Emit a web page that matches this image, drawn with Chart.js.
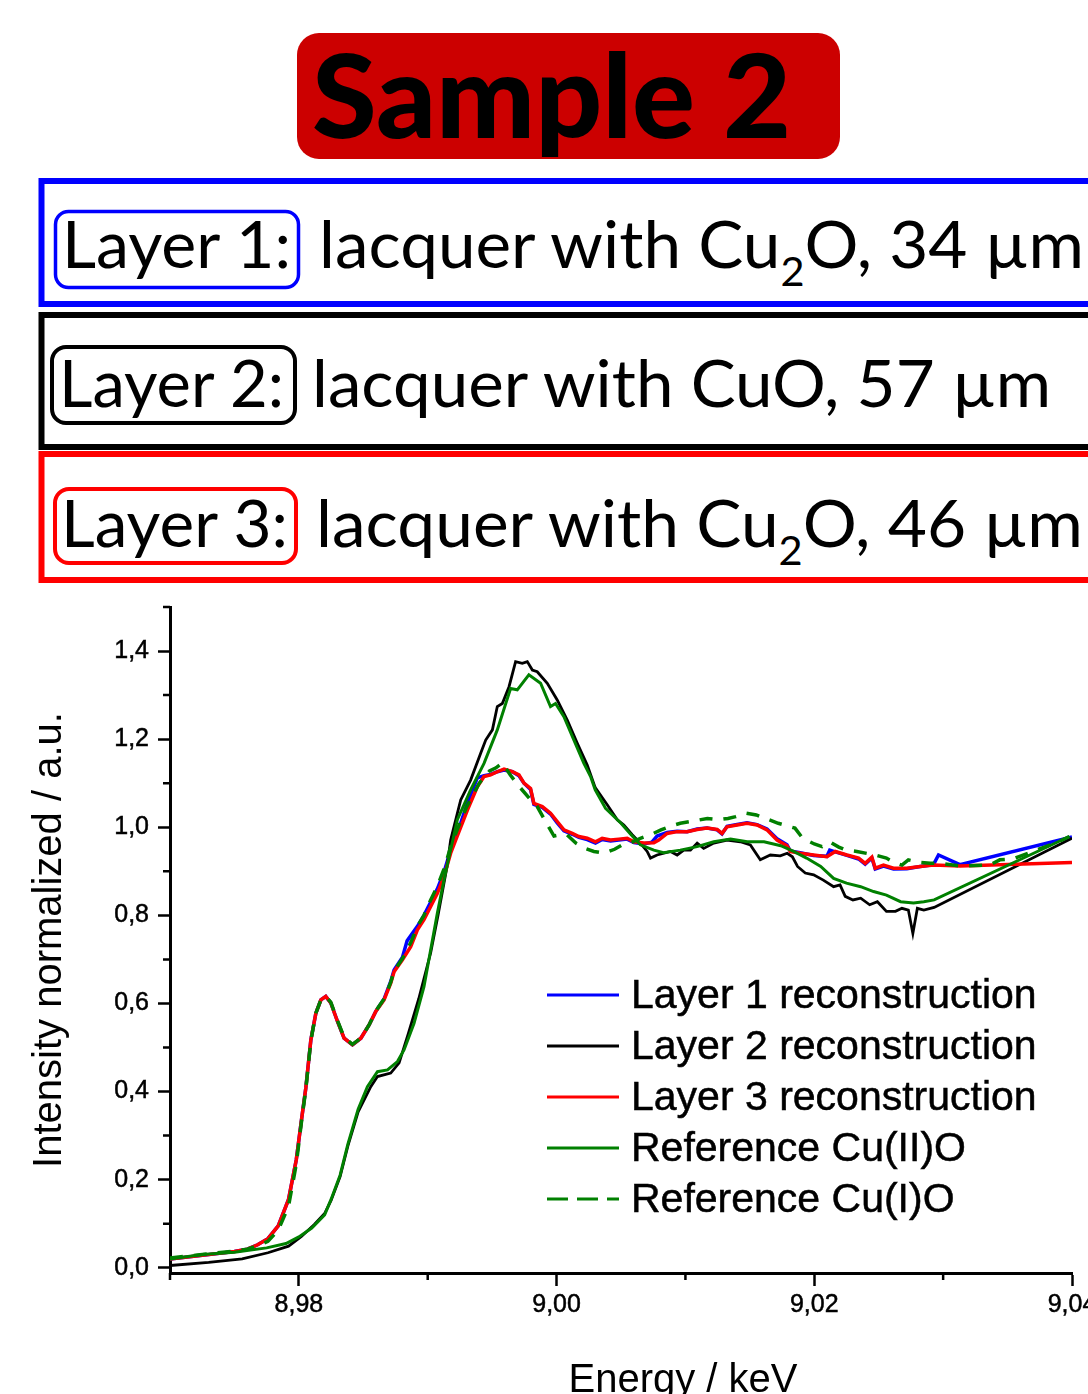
<!DOCTYPE html>
<html><head><meta charset="utf-8">
<script src="https://cdn.jsdelivr.net/npm/chart.js@4.4.1/dist/chart.umd.min.js"></script>
<style>
html,body{margin:0;padding:0;background:#fff;width:1088px;height:1394px;overflow:hidden;}
#hdr{position:absolute;left:0;top:0;}
#plot{position:absolute;left:0;top:590px;width:1088px;height:804px;overflow:hidden;}
#plot canvas{position:absolute;left:0;top:0;}
</style></head><body>
<svg id="hdr" width="1088" height="590" xmlns="http://www.w3.org/2000/svg">
  <rect x="297" y="33" width="543" height="126" rx="22" fill="#cc0000"/>
  <text x="312" y="138" font-family="Lato" font-weight="900" font-size="116" textLength="479" lengthAdjust="spacingAndGlyphs" fill="#000">Sample 2</text>

  <rect x="41.5" y="181" width="1100" height="123" fill="none" stroke="#0000ff" stroke-width="6"/>
  <rect x="55.5" y="211.5" width="243" height="76" rx="13" fill="none" stroke="#0000ff" stroke-width="3.5"/>
  <text x="62" y="268" font-family="Lato" font-size="65" textLength="229" lengthAdjust="spacingAndGlyphs" fill="#000">Layer 1:</text>
  <text x="319" y="268" font-family="Lato" font-size="65" textLength="765" lengthAdjust="spacingAndGlyphs" fill="#000">lacquer with Cu<tspan font-size="40" dy="18">2</tspan><tspan dy="-18">O, 34 µm</tspan></text>

  <rect x="41.5" y="315" width="1100" height="132" fill="none" stroke="#000" stroke-width="6"/>
  <rect x="52" y="347" width="243" height="76" rx="14" fill="none" stroke="#000" stroke-width="4"/>
  <text x="59" y="407" font-family="Lato" font-size="65" textLength="225" lengthAdjust="spacingAndGlyphs" fill="#000">Layer 2:</text>
  <text x="312" y="407" font-family="Lato" font-size="65" textLength="739" lengthAdjust="spacingAndGlyphs" fill="#000">lacquer with CuO, 57 µm</text>

  <rect x="41.5" y="454" width="1100" height="126" fill="none" stroke="#ff0000" stroke-width="6"/>
  <rect x="55" y="489" width="241" height="74" rx="14" fill="none" stroke="#ff0000" stroke-width="4"/>
  <text x="61" y="547" font-family="Lato" font-size="65" textLength="227" lengthAdjust="spacingAndGlyphs" fill="#000">Layer 3:</text>
  <text x="316" y="547" font-family="Lato" font-size="65" textLength="767" lengthAdjust="spacingAndGlyphs" fill="#000">lacquer with Cu<tspan font-size="40" dy="18">2</tspan><tspan dy="-18">O, 46 µm</tspan></text>
</svg>
<div id="plot"><canvas id="c" width="1140" height="830"></canvas></div>
<script>
// ---------- data (energy in keV, normalized intensity) ----------
const seriesLabels = ["Layer 1 reconstruction","Layer 2 reconstruction","Layer 3 reconstruction","Reference Cu(II)O","Reference Cu(I)O"];

const layer1E = [8.9700,8.9725,8.9750,8.9760,8.9768,8.9776,8.9784,8.9792,8.9798,8.9802,8.98054,8.98093,8.98132,8.98171,8.98209,8.98248,8.9830,8.98351,8.98416,8.98481,8.98545,8.98597,8.98661,8.98713,8.98739,8.98804,8.98840,8.9892,8.98971,8.99023,8.99075,8.99126,8.99178,8.99217,8.99308,8.99385,8.99437,8.99488,8.9954,8.99592,8.99657,8.99708,8.99747,8.99798,8.99824,8.99889,8.99953,9.00005,9.00057,9.00122,9.00173,9.00238,9.00302,9.00354,9.00419,9.00483,9.00548,9.0060,9.00677,9.00740,9.00780,9.00858,9.00936,9.01013,9.01091,9.01168,9.01246,9.01284,9.01323,9.01401,9.01478,9.01556,9.01633,9.01711,9.01788,9.01814,9.01891,9.01995,9.02098,9.0212,9.02163,9.02253,9.02344,9.02395,9.02447,9.02473,9.02537,9.02615,9.02718,9.02822,9.02925,9.02964,9.0313,9.0400];
const layer1I = [0.020,0.028,0.037,0.042,0.052,0.066,0.095,0.155,0.245,0.335,0.408,0.517,0.578,0.608,0.616,0.601,0.559,0.521,0.506,0.521,0.551,0.582,0.610,0.650,0.676,0.705,0.742,0.775,0.800,0.830,0.860,0.898,0.948,0.975,1.055,1.112,1.117,1.120,1.126,1.130,1.126,1.117,1.100,1.086,1.052,1.045,1.030,1.010,0.992,0.984,0.977,0.972,0.964,0.972,0.969,0.971,0.973,0.965,0.962,0.966,0.980,0.988,0.991,0.990,0.996,0.998,0.994,0.985,1.002,1.006,1.010,1.006,0.996,0.974,0.960,0.946,0.942,0.936,0.934,0.948,0.944,0.936,0.928,0.916,0.930,0.905,0.912,0.905,0.906,0.911,0.915,0.937,0.915,0.978];

const layer2E = [8.9700,8.9730,8.9756,8.9776,8.9792,8.9802,8.9812,8.9820,8.9825,8.9832,8.9838,8.9846,8.98558,8.9861,8.98713,8.98778,8.9885,8.9893,8.99023,8.9908,8.9915,8.99178,8.99256,8.99333,8.99411,8.9945,8.99502,8.9954,8.99579,8.99631,8.99682,8.99734,8.99773,8.99812,8.9985,8.99928,9.00005,9.00083,9.0016,9.00238,9.0030,9.00393,9.00471,9.00522,9.00587,9.0065,9.00703,9.00729,9.0078,9.00832,9.00884,9.00936,9.00987,9.01039,9.01091,9.01142,9.0122,9.01323,9.01426,9.01504,9.01581,9.01659,9.01736,9.0179,9.0183,9.0187,9.0193,9.01995,9.0207,9.0215,9.0220,9.0224,9.0230,9.0236,9.0243,9.0249,9.0256,9.0263,9.0268,9.0273,9.02765,9.0280,9.0285,9.0293,9.0400];
const layer2I = [0.005,0.012,0.020,0.034,0.049,0.071,0.098,0.123,0.153,0.207,0.276,0.354,0.411,0.434,0.442,0.465,0.532,0.610,0.715,0.800,0.911,0.971,1.062,1.107,1.168,1.198,1.221,1.274,1.281,1.319,1.376,1.372,1.376,1.357,1.353,1.327,1.289,1.243,1.191,1.141,1.090,1.051,1.017,1.005,0.983,0.964,0.945,0.930,0.937,0.941,0.945,0.937,0.948,0.948,0.964,0.952,0.964,0.971,0.967,0.960,0.926,0.937,0.935,0.941,0.933,0.911,0.896,0.892,0.880,0.865,0.869,0.843,0.835,0.839,0.824,0.831,0.809,0.809,0.816,0.812,0.759,0.816,0.812,0.818,0.975];

const layer3E = [8.9700,8.9725,8.9750,8.9760,8.9768,8.9776,8.9784,8.9792,8.9798,8.9802,8.98054,8.98093,8.98132,8.98171,8.98209,8.98248,8.9830,8.98351,8.98416,8.98481,8.98545,8.98597,8.98661,8.98713,8.98739,8.98804,8.98868,8.9892,8.98971,8.99023,8.99075,8.99126,8.99178,8.99217,8.99308,8.99385,8.99437,8.99488,8.9954,8.99592,8.99657,8.99708,8.99747,8.99798,8.99824,8.99889,8.99953,9.00005,9.00057,9.00122,9.00173,9.00238,9.00302,9.00354,9.00419,9.00483,9.00548,9.0060,9.00677,9.00755,9.00793,9.00858,9.00936,9.01013,9.01091,9.01168,9.01246,9.01284,9.01323,9.01401,9.01478,9.01556,9.01633,9.01711,9.01788,9.01814,9.01891,9.01995,9.02098,9.02163,9.02253,9.02344,9.02395,9.02447,9.02473,9.02537,9.02615,9.02718,9.02822,9.02925,9.0313,9.0400];
const layer3I = [0.020,0.028,0.037,0.042,0.052,0.066,0.095,0.155,0.245,0.335,0.408,0.517,0.578,0.608,0.616,0.601,0.559,0.521,0.506,0.521,0.551,0.582,0.608,0.646,0.672,0.699,0.729,0.767,0.790,0.820,0.850,0.888,0.941,0.971,1.039,1.092,1.115,1.119,1.126,1.132,1.126,1.119,1.100,1.088,1.054,1.047,1.032,1.013,0.994,0.986,0.979,0.975,0.967,0.975,0.971,0.973,0.975,0.967,0.964,0.965,0.971,0.986,0.990,0.990,0.995,0.998,0.995,0.986,1.001,1.005,1.009,1.005,0.994,0.971,0.958,0.945,0.941,0.937,0.933,0.945,0.937,0.930,0.918,0.932,0.907,0.914,0.907,0.907,0.911,0.914,0.912,0.920];

const cuIIOE = [8.9700,8.9725,8.9750,8.9775,8.9790,8.9800,8.9810,8.9820,8.9825,8.9832,8.9838,8.9846,8.98532,8.9861,8.98688,8.98765,8.98817,8.98894,8.98971,8.99023,8.99075,8.99126,8.99178,8.9923,8.99333,8.99437,8.9954,8.99643,8.99695,8.99785,8.99876,8.99953,8.99992,9.00057,9.00134,9.00212,9.00264,9.0030,9.0038,9.0050,9.0057,9.0065,9.00755,9.0083,9.0096,9.0109,9.0122,9.0135,9.0148,9.0161,9.0174,9.0184,9.0194,9.0205,9.0215,9.0225,9.0236,9.0246,9.0256,9.0267,9.0277,9.0285,9.0293,9.0398];
const cuIIOI = [0.020,0.030,0.035,0.045,0.055,0.070,0.090,0.120,0.155,0.210,0.280,0.360,0.411,0.445,0.449,0.468,0.495,0.555,0.638,0.722,0.805,0.880,0.949,1.017,1.085,1.145,1.221,1.315,1.312,1.346,1.327,1.274,1.281,1.251,1.198,1.145,1.115,1.085,1.043,1.009,0.986,0.960,0.948,0.942,0.948,0.956,0.967,0.973,0.967,0.967,0.958,0.945,0.930,0.911,0.884,0.873,0.865,0.854,0.846,0.831,0.828,0.831,0.835,0.979];

const cuIOE = [8.9700,8.9725,8.9750,8.9760,8.9768,8.9776,8.9784,8.9792,8.9798,8.9802,8.98054,8.98093,8.98132,8.98171,8.98209,8.98248,8.9830,8.98351,8.98416,8.98481,8.98545,8.98597,8.98661,8.98713,8.98739,8.98804,8.98868,8.9892,8.98971,8.99023,8.99075,8.99126,8.99178,8.9923,8.9930,8.9940,8.9948,8.9953,8.9958,8.9964,8.9970,8.9980,8.9985,8.9993,8.9998,9.0003,9.0008,9.0015,9.0022,9.0029,9.0037,9.0045,9.0051,9.0057,9.0065,9.0073,9.0081,9.0089,9.0096,9.0104,9.0117,9.0126,9.0133,9.0139,9.0147,9.0155,9.0162,9.0172,9.0185,9.0191,9.0200,9.0206,9.0212,9.0219,9.0225,9.0233,9.0247,9.0256,9.0262,9.0268,9.0273,9.0282,9.0290,9.0298,9.0313,9.0336,9.0344,9.0354,9.0388,9.0398];
const cuIOI = [0.022,0.030,0.038,0.042,0.050,0.060,0.085,0.140,0.235,0.330,0.405,0.515,0.578,0.608,0.616,0.603,0.561,0.523,0.507,0.521,0.551,0.583,0.610,0.648,0.674,0.702,0.738,0.775,0.800,0.835,0.866,0.905,0.955,0.995,1.045,1.100,1.128,1.135,1.146,1.119,1.096,1.062,1.047,1.005,0.980,0.983,0.983,0.964,0.952,0.945,0.941,0.950,0.960,0.964,0.975,0.983,0.994,1.003,1.009,1.013,1.020,1.017,1.020,1.024,1.032,1.028,1.020,1.009,0.998,0.975,0.962,0.956,0.967,0.955,0.948,0.945,0.937,0.930,0.920,0.914,0.926,0.920,0.918,0.918,0.912,0.914,0.926,0.928,0.965,0.979];

const xMajorTicks = [8.98, 9.00, 9.02, 9.04];
const xMinorTicks = [8.97, 8.99, 9.01, 9.03];
const yMajorTicks = [0.0, 0.2, 0.4, 0.6, 0.8, 1.0, 1.2, 1.4];
const yMinorTicks = [0.1, 0.3, 0.5, 0.7, 0.9, 1.1, 1.3, 1.5];
const xAxisTitle = "Energy / keV";
const yAxisTitle = "Intensity normalized / a.u.";

// ---------- chart ----------
function pts(E, I) { return E.map((e, i) => ({ x: e, y: I[i] })); }
const FONT = '"Liberation Sans", Arial, sans-serif';

const minorTicksPlugin = {
  id: 'minorTicks',
  afterDraw(chart) {
    const ctx = chart.ctx, xs = chart.scales.x, ys = chart.scales.y;
    ctx.save();
    ctx.strokeStyle = '#000'; ctx.lineWidth = 2.5;
    ctx.beginPath();
    xMinorTicks.forEach(v => { const p = xs.getPixelForValue(v); ctx.moveTo(p, xs.top); ctx.lineTo(p, xs.top + 7); });
    yMinorTicks.forEach(v => { const p = ys.getPixelForValue(v); ctx.moveTo(ys.right, p); ctx.lineTo(ys.right - 7, p); });
    ctx.stroke();
    ctx.restore();
  }
};

const insideLegend = {
  id: 'insideLegend',
  afterDraw(chart, args, o) {
    const ctx = chart.ctx, ca = chart.chartArea;
    chart.data.datasets.forEach((ds, i) => {
      const y = ca.top + o.top + i * o.spacing;
      const x = ca.left + o.left;
      ctx.save();
      ctx.strokeStyle = ds.borderColor; ctx.lineWidth = 3;
      ctx.setLineDash(ds.legendDash || []);
      ctx.beginPath(); ctx.moveTo(x, y); ctx.lineTo(x + 72, y); ctx.stroke();
      ctx.setLineDash([]);
      ctx.fillStyle = '#000'; ctx.font = '41px ' + FONT; ctx.textBaseline = 'alphabetic'; ctx.textAlign = 'left';
      ctx.fillText(ds.label, x + 84, y + 13);
      ctx.strokeStyle = '#000'; ctx.lineWidth = 0.5; ctx.strokeText(ds.label, x + 84, y + 13);
      ctx.restore();
    });
  }
};

const xTitlePlugin = {
  id: 'xTitle',
  afterDraw(chart, args, o) {
    const ctx = chart.ctx, ca = chart.chartArea;
    ctx.save();
    ctx.fillStyle = '#000'; ctx.font = '40px ' + FONT; ctx.textAlign = 'center'; ctx.textBaseline = 'alphabetic';
    ctx.fillText(xAxisTitle, ca.left + o.dx, ca.bottom + o.dy);
    ctx.restore();
  }
};

new Chart(document.getElementById('c'), {
  type: 'line',
  data: {
    datasets: [
      { label: seriesLabels[0], data: pts(layer1E, layer1I), borderColor: '#0000ff', borderWidth: 3.5, order: 5 },
      { label: seriesLabels[1], data: pts(layer2E, layer2I), borderColor: '#000000', borderWidth: 2.8, order: 4 },
      { label: seriesLabels[2], data: pts(layer3E, layer3I), borderColor: '#ff0000', borderWidth: 3.5, order: 3 },
      { label: seriesLabels[3], data: pts(cuIIOE, cuIIOI), borderColor: '#008000', borderWidth: 3, order: 2 },
      { label: seriesLabels[4], data: pts(cuIOE, cuIOI), borderColor: '#008000', borderWidth: 3.5, borderDash: [13, 11], legendDash: [21, 9], order: 1 }
    ]
  },
  options: {
    responsive: false, animation: false, devicePixelRatio: 1, events: [],
    elements: { point: { radius: 0 }, line: { tension: 0, fill: false } },
    layout: { padding: { left: 0, top: 17, right: 68, bottom: 87 } },
    plugins: {
      legend: { display: false }, tooltip: { enabled: false },
      insideLegend: { left: 377, top: 388, spacing: 51 },
      xTitle: { dx: 513, dy: 119 }
    },
    scales: {
      x: {
        type: 'linear', min: 8.97, max: 9.04,
        afterBuildTicks: s => { s.ticks = xMajorTicks.map(v => ({ value: v })); },
        afterFit: s => { s.height = 60; s.paddingLeft = 0; s.paddingRight = 0; },
        ticks: { font: { family: FONT, size: 25 }, color: '#000', padding: 4, maxRotation: 0, autoSkip: false,
                 textStrokeColor: '#000', textStrokeWidth: 0.5,
                 callback: v => Number(v).toFixed(2).replace('.', ',') },
        grid: { drawOnChartArea: false, drawTicks: true, tickLength: 13, tickWidth: 2.5, tickColor: '#000' },
        border: { display: true, color: '#000', width: 3 }
      },
      y: {
        type: 'linear', min: -0.012, max: 1.5,
        afterBuildTicks: s => { s.ticks = yMajorTicks.map(v => ({ value: v })); },
        afterFit: s => { s.width = 170; s.paddingTop = 0; s.paddingBottom = 0; },
        ticks: { font: { family: FONT, size: 25 }, color: '#000', padding: 9, autoSkip: false,
                 textStrokeColor: '#000', textStrokeWidth: 0.5,
                 callback: v => Number(v).toFixed(1).replace('.', ',') },
        grid: { drawOnChartArea: false, drawTicks: true, tickLength: 12, tickWidth: 2.5, tickColor: '#000' },
        border: { display: true, color: '#000', width: 3 },
        title: { display: true, text: yAxisTitle, color: '#000', font: { family: FONT, size: 40 }, padding: { top: 26, bottom: 0 } }
      }
    }
  },
  plugins: [minorTicksPlugin, insideLegend, xTitlePlugin]
});
</script>
</body></html>
